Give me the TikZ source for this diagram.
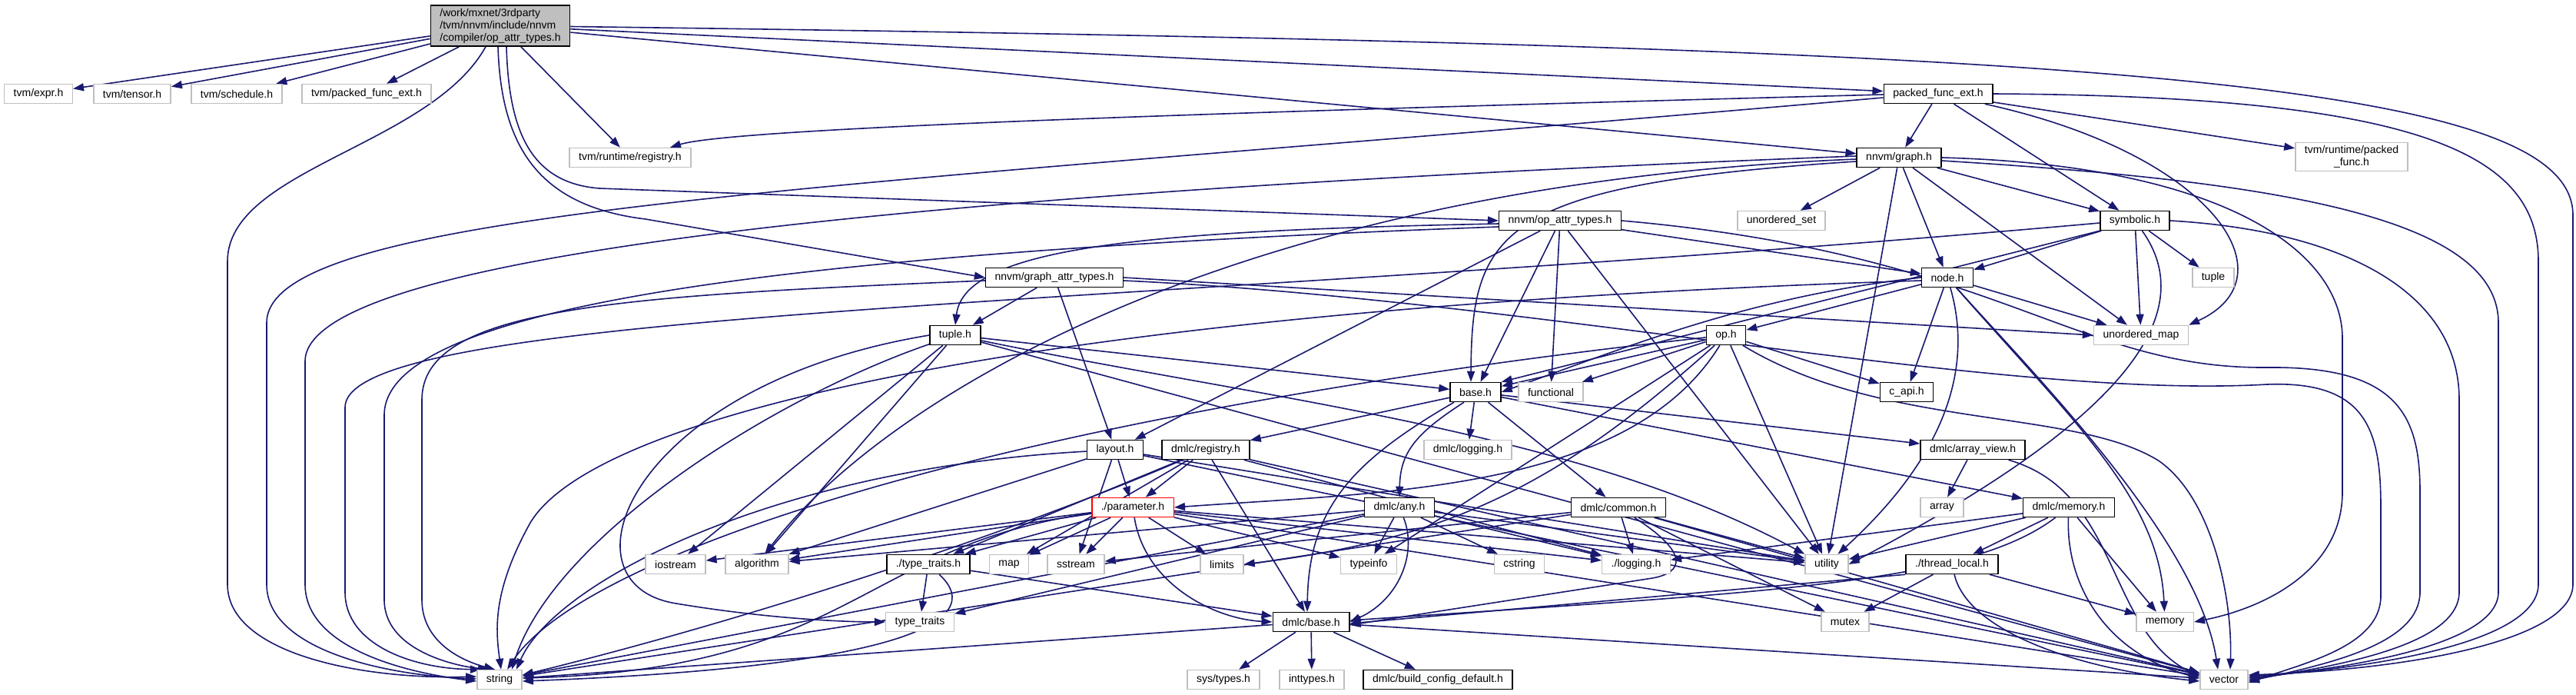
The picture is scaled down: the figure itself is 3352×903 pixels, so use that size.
\documentclass[tikz,border=0pt]{standalone}
\usepackage{fontspec}
\setmainfont{Liberation Sans}
\usetikzlibrary{arrows.meta, backgrounds}
\definecolor{midblue}{RGB}{25,25,112}
\definecolor{lightgrey}{RGB}{191,191,191}

\begin{document}
\begin{tikzpicture}[x=1pt, y=-1pt,
    incl/.style={rectangle, draw=black, line width=1.5pt, fill=white,
                 font=\fontsize{14}{16}\selectfont, inner xsep=12pt, inner ysep=2pt,
                 minimum height=25pt},
    sys/.style={incl, draw=lightgrey},
    dep/.style={-{Triangle[length=14pt, width=10pt]}, midblue, line width=1.6pt},
  ]
  \useasboundingbox (0,0) rectangle (3352,903);

  \node[incl, fill=lightgrey, align=left, inner ysep=4pt] (main) at (651,33.5)
    {/work/mxnet/3rdparty\\/tvm/nnvm/include/nnvm\\/compiler/op\_attr\_types.h};
  \node[sys] (expr) at (50,122) {tvm/expr.h};
  \node[sys] (tensor) at (172,122) {tvm/tensor.h};
  \node[sys] (schedule) at (308,122) {tvm/schedule.h};
  \node[sys] (tvmpfe) at (477,122) {tvm/packed\_func\_ext.h};
  \node[incl] (pfe) at (2522,122) {packed\_func\_ext.h};
  \node[sys] (rtreg) at (820,205) {tvm/runtime/registry.h};
  \node[incl] (graph) at (2471,205) {nnvm/graph.h};
  \node[sys, align=center, inner ysep=4pt] (packedfunc) at (3060,204) {tvm/runtime/packed\\\_func.h};
  \node[incl] (opattr) at (2030,287) {nnvm/op\_attr\_types.h};
  \node[sys] (uset) at (2318,287) {unordered\_set};
  \node[incl] (symbolic) at (2778,287) {symbolic.h};
  \node[incl] (gattr) at (1372,361) {nnvm/graph\_attr\_types.h};
  \node[incl] (nodeh) at (2534,361) {node.h};
  \node[sys] (tuplestd) at (2880,361) {tuple};
  \node[incl] (tupleh) at (1243,436) {tuple.h};
  \node[incl] (op) at (2246,436) {op.h};
  \node[sys] (umap) at (2786,436) {unordered\_map};
  \node[incl] (base) at (1920,510) {base.h};
  \node[sys] (functional) at (2018,510) {functional};
  \node[incl] (capi) at (2481,510) {c\_api.h};
  \node[incl] (layout) at (1451,585) {layout.h};
  \node[incl] (registry) at (1569,585) {dmlc/registry.h};
  \node[sys] (dlogging) at (1910,585) {dmlc/logging.h};
  \node[incl] (arrayview) at (2567,585) {dmlc/array\_view.h};
  \node[incl, draw=red] (param) at (1474,660) {./parameter.h};
  \node[incl] (any) at (1821,660) {dmlc/any.h};
  \node[incl] (common) at (2106,660) {dmlc/common.h};
  \node[sys] (array) at (2527,660) {array};
  \node[incl] (memoryh) at (2692,660) {dmlc/memory.h};
  \node[sys] (iostream) at (879,734) {iostream};
  \node[sys] (algorithm) at (985,734) {algorithm};
  \node[incl] (typetraitsh) at (1208,734) {./type\_traits.h};
  \node[sys] (map) at (1313,734) {map};
  \node[sys] (sstream) at (1400,734) {sstream};
  \node[sys] (limits) at (1590,734) {limits};
  \node[sys] (typeinfo) at (1781,734) {typeinfo};
  \node[sys] (cstring) at (1977,734) {cstring};
  \node[sys] (logging) at (2129,734) {./logging.h};
  \node[sys] (utility) at (2377,734) {utility};
  \node[incl] (threadlocal) at (2540,734) {./thread\_local.h};
  \node[sys] (typetraits) at (1197,809) {type\_traits};
  \node[incl] (dbase) at (1706,809) {dmlc/base.h};
  \node[sys] (mutex) at (2401,809) {mutex};
  \node[sys] (memory) at (2817,809) {memory};
  \node[sys] (string) at (650,884) {string};
  \node[sys] (systypes) at (1592,884) {sys/types.h};
  \node[sys] (inttypes) at (1707,884) {inttypes.h};
  \node[incl] (buildcfg) at (1871,884) {dmlc/build\_config\_default.h};
  \node[sys] (vector) at (2894,884) {vector};

  \begin{scope}[on background layer]
    \fill[white] (0,0) rectangle (3352,903);
    \draw[dep] (main) -- (expr);
    \draw[dep] (main) -- (tensor);
    \draw[dep] (main) -- (schedule);
    \draw[dep] (main) -- (tvmpfe);
    \draw[dep] (main) -- (rtreg);
    \draw[dep] (main) -- (pfe);
    \draw[dep] (main) -- (graph);
    \draw[dep] ([xshift=8pt]main.south) .. controls (662,170) and (690,238) .. (780,245) -- (opattr.west);
    \draw[dep] ([xshift=-3pt]main.south) .. controls (652,190) and (700,268) .. (840,285) -- (gattr.west);
    \draw[dep] ([xshift=-19pt]main.south) .. controls (560,190) and (296,220) .. (296,340) -- (296,760) .. controls (296,850) and (470,884) .. ([yshift=4pt]string.west);
    \draw[dep] ([yshift=-1pt]main.east) .. controls (2700,60) and (3348,100) .. (3348,280) -- (3348,760) .. controls (3348,830) and (3150,870) .. ([yshift=6pt]vector.east);

    \draw[dep] (pfe) -- (packedfunc);
    \draw[dep] (pfe) -- (graph);
    \draw[dep] (pfe) -- (symbolic);
    \draw[dep] ([yshift=-1pt]pfe.west) .. controls (1500,148) and (950,168) .. ([xshift=52pt]rtreg.north);
    \draw[dep] (pfe) .. controls (2880,200) and (2985,360) .. (umap.north east);
    \draw[dep] ([yshift=-5pt]pfe.west) .. controls (1100,245) and (347,270) .. (347,420) -- (347,760) .. controls (347,845) and (500,878) .. ([yshift=1pt]string.west);
    \draw[dep] (pfe.east) .. controls (3150,125) and (3303,200) .. (3303,340) -- (3303,760) .. controls (3303,830) and (3120,866) .. ([yshift=4pt]vector.east);

    \draw[dep] (graph) -- (uset);
    \draw[dep] (graph) -- (symbolic);
    \draw[dep] (graph) -- (nodeh);
    \draw[dep] (graph) -- (umap);
    \draw[dep] (graph) -- (utility);
    \draw[dep] ([yshift=-5pt]graph.west) .. controls (1950,240) and (1915,300) .. ([xshift=-6pt]base.north);
    \draw[dep] ([yshift=-2pt]graph.west) .. controls (1600,240) and (1150,520) .. (algorithm);
    \draw[dep] ([yshift=2pt]graph.west) .. controls (1200,250) and (397,330) .. (397,470) -- (397,760) .. controls (397,840) and (520,874) .. ([yshift=-2pt]string.west);
    \draw[dep] (graph.east) .. controls (2900,215) and (3048,330) .. (3048,440) -- (3048,640) .. controls (3048,740) and (2950,790) .. (memory.east);
    \draw[dep] ([yshift=-4pt]graph.east) .. controls (2950,235) and (3251,280) .. (3251,420) -- (3251,770) .. controls (3251,835) and (3080,866) .. ([yshift=2pt]vector.east);

    \draw[dep] (symbolic) -- (tuplestd);
    \draw[dep] (symbolic) -- (umap);
    \draw[dep] (symbolic) -- (nodeh);
    \draw[dep] (symbolic.south west) -- (base.north east);
    \draw[dep] (symbolic) .. controls (2880,430) and (2700,580) .. (utility.east);
    \draw[dep] ([yshift=-3pt]symbolic.west) .. controls (1500,400) and (449,400) .. (449,530) -- (449,770) .. controls (449,840) and (540,870) .. ([xshift=-24pt]string.north);
    \draw[dep] (symbolic.east) .. controls (3050,300) and (3200,380) .. (3200,520) -- (3200,770) .. controls (3200,835) and (3060,864) .. (vector.east);

    \draw[dep] (opattr) -- (base);
    \draw[dep] (opattr) -- (functional);
    \draw[dep] (opattr) -- (nodeh);
    \draw[dep] (opattr) -- (layout);
    \draw[dep] (opattr) -- (utility);
    \draw[dep] ([yshift=-4pt]opattr.west) .. controls (1500,300) and (1255,320) .. (tupleh.north);
    \draw[dep] ([yshift=-8pt]opattr.west) .. controls (1000,330) and (500,400) .. (500,540) -- (500,780) .. controls (500,845) and (590,866) .. ([xshift=-14pt]string.north);
    \draw[dep] (opattr.east) .. controls (2600,330) and (2700,480) .. (2950,478) .. controls (3120,476) and (3149,540) .. (3149,640) -- (3149,770) .. controls (3149,835) and (3040,862) .. ([yshift=-2pt]vector.east);

    \draw[dep] (gattr) -- (tupleh);
    \draw[dep] (gattr) -- (layout);
    \draw[dep] (gattr.east) -- (umap.west);
    \draw[dep] ([yshift=-4pt]gattr.west) .. controls (800,385) and (549,400) .. (549,520) -- (549,780) .. controls (549,840) and (610,862) .. ([xshift=-6pt]string.north);
    \draw[dep] ([yshift=-4pt]gattr.east) .. controls (2000,390) and (2600,520) .. (2950,500) .. controls (3080,495) and (3098,560) .. (3098,660) -- (3098,775) .. controls (3098,840) and (3000,862) .. ([yshift=-4pt]vector.east);

    \draw[dep] (nodeh) -- (op);
    \draw[dep] (nodeh) -- (capi);
    \draw[dep] (nodeh) -- (umap);
    \draw[dep] (nodeh.west) .. controls (2280,385) and (2120,450) .. (base.east);
    \draw[dep] (nodeh) .. controls (2580,520) and (2480,640) .. (utility);
    \draw[dep] (nodeh) .. controls (2700,550) and (2810,650) .. (memory);
    \draw[dep] (nodeh) .. controls (2640,480) and (2860,700) .. ([xshift=-8pt]vector.north);
    \draw[dep] ([yshift=-4pt]nodeh.west) .. controls (1400,400) and (780,530) .. (690,680) .. controls (640,770) and (645,820) .. ([xshift=2pt]string.north);

    \draw[dep] (op) -- (base);
    \draw[dep] (op) -- (functional);
    \draw[dep] (op) -- (capi);
    \draw[dep] (op) -- (typeinfo);
    \draw[dep] (op) -- (utility);
    \draw[dep] (op) .. controls (2120,640) and (1800,640) .. (param.east);
    \draw[dep] (op) .. controls (2040,620) and (1900,700) .. (limits.east);
    \draw[dep] (op) .. controls (1300,540) and (760,720) .. ([xshift=10pt]string.north);
    \draw[dep] (op) .. controls (2450,560) and (2700,530) .. (2810,600) .. controls (2880,650) and (2905,780) .. ([xshift=8pt]vector.north);

    \draw[dep] (tupleh) -- (base);
    \draw[dep] (tupleh) -- (iostream);
    \draw[dep] (tupleh) -- (algorithm);
    \draw[dep] (tupleh) .. controls (1650,520) and (2050,560) .. (utility.north west);
    \draw[dep] (tupleh) -- (vector);
    \draw[dep] (tupleh.west) .. controls (820,500) and (720,760) .. (880,785) .. controls (1000,805) and (1100,809) .. (typetraits.west);
    \draw[dep] (tupleh) .. controls (1000,520) and (720,700) .. ([xshift=16pt]string.north);

    \draw[dep] (base) -- (dlogging);
    \draw[dep] (base) -- (registry);
    \draw[dep] (base) -- (common);
    \draw[dep] (base) -- (memoryh);
    \draw[dep] (base) -- (arrayview);
    \draw[dep] ([xshift=-15pt]base.south) .. controls (1840,565) and (1822,590) .. (any.north);
    \draw[dep] ([xshift=-28pt]base.south) .. controls (1760,600) and (1703,660) .. ([xshift=-5pt]dbase.north);

    \draw[dep] (layout) -- (param);
    \draw[dep] (layout) -- (sstream);
    \draw[dep] (layout) -- (algorithm);
    \draw[dep] (layout) -- (utility);
    \draw[dep] (layout) -- (vector);
    \draw[dep] (layout) .. controls (1000,610) and (720,760) .. ([xshift=22pt]string.north);

    \draw[dep] (registry) -- (param);
    \draw[dep] (registry) -- (map);
    \draw[dep] (registry) -- (typetraitsh);
    \draw[dep] (registry) -- (logging);
    \draw[dep] (registry) -- (dbase);
    \draw[dep] (registry) -- (vector);
    \draw[dep] (registry) .. controls (1350,680) and (1000,800) .. ([yshift=6pt]string.east);

    \draw[dep] (param) -- (iostream);
    \draw[dep] (param) -- (algorithm);
    \draw[dep] (param) -- (typetraitsh);
    \draw[dep] (param) -- (map);
    \draw[dep] (param) -- (sstream);
    \draw[dep] (param) -- (limits);
    \draw[dep] (param) -- (typeinfo);
    \draw[dep] (param) -- (logging);
    \draw[dep] (param) -- (utility);
    \draw[dep] (param) -- (vector);
    \draw[dep] (param) .. controls (1490,760) and (1580,805) .. (dbase.west);
    \draw[dep] (param) .. controls (1120,710) and (1110,870) .. ([yshift=2pt]string.east);

    \draw[dep] (any) -- (typeinfo);
    \draw[dep] (any) -- (cstring);
    \draw[dep] (any) -- (logging);
    \draw[dep] (any) -- (utility);
    \draw[dep] (any) -- (algorithm);
    \draw[dep] (any) -- (typetraits);
    \draw[dep] (any) -- (string);
    \draw[dep] (any) .. controls (1845,720) and (1820,780) .. (dbase.east);

    \draw[dep] (common) -- (logging);
    \draw[dep] (common) -- (sstream);
    \draw[dep] (common) -- (utility);
    \draw[dep] (common) -- (mutex);
    \draw[dep] (common) -- (vector);
    \draw[dep] (common) -- (string);
    \draw[dep] (common) .. controls (2200,720) and (2190,745) .. (2150,752) -- ([yshift=-4pt]dbase.east);

    \draw[dep] (arrayview) -- (array);
    \draw[dep] (arrayview) .. controls (2760,640) and (2740,820) .. ([yshift=4pt]vector.west);

    \draw[dep] (memoryh) -- (threadlocal);
    \draw[dep] (memoryh) -- (memory);
    \draw[dep] (memoryh) -- (utility);
    \draw[dep] (memoryh) -- (logging);
    \draw[dep] (memoryh) .. controls (2560,760) and (2300,770) .. ([yshift=2pt]dbase.east);
    \draw[dep] (memoryh) .. controls (2688,760) and (2740,850) .. ([yshift=2pt]vector.west);

    \draw[dep] (threadlocal) -- (mutex);
    \draw[dep] (threadlocal) -- (memory);
    \draw[dep] (threadlocal.south west) -- ([yshift=-2pt]dbase.east);
    \draw[dep] (threadlocal) .. controls (2560,820) and (2700,870) .. ([yshift=-2pt]vector.west);

    \draw[dep] (typetraitsh) -- (typetraits);
    \draw[dep] (typetraitsh) -- (dbase);
    \draw[dep] (typetraitsh) .. controls (1290,810) and (1160,868) .. ([yshift=-2pt]string.east);

    \draw[dep] (dbase) -- (systypes);
    \draw[dep] (dbase) -- (inttypes);
    \draw[dep] (dbase) -- (buildcfg);
    \draw[dep] (dbase) -- (string);
    \draw[dep] (dbase) -- (vector);
  \end{scope}
\end{tikzpicture}
\end{document}
